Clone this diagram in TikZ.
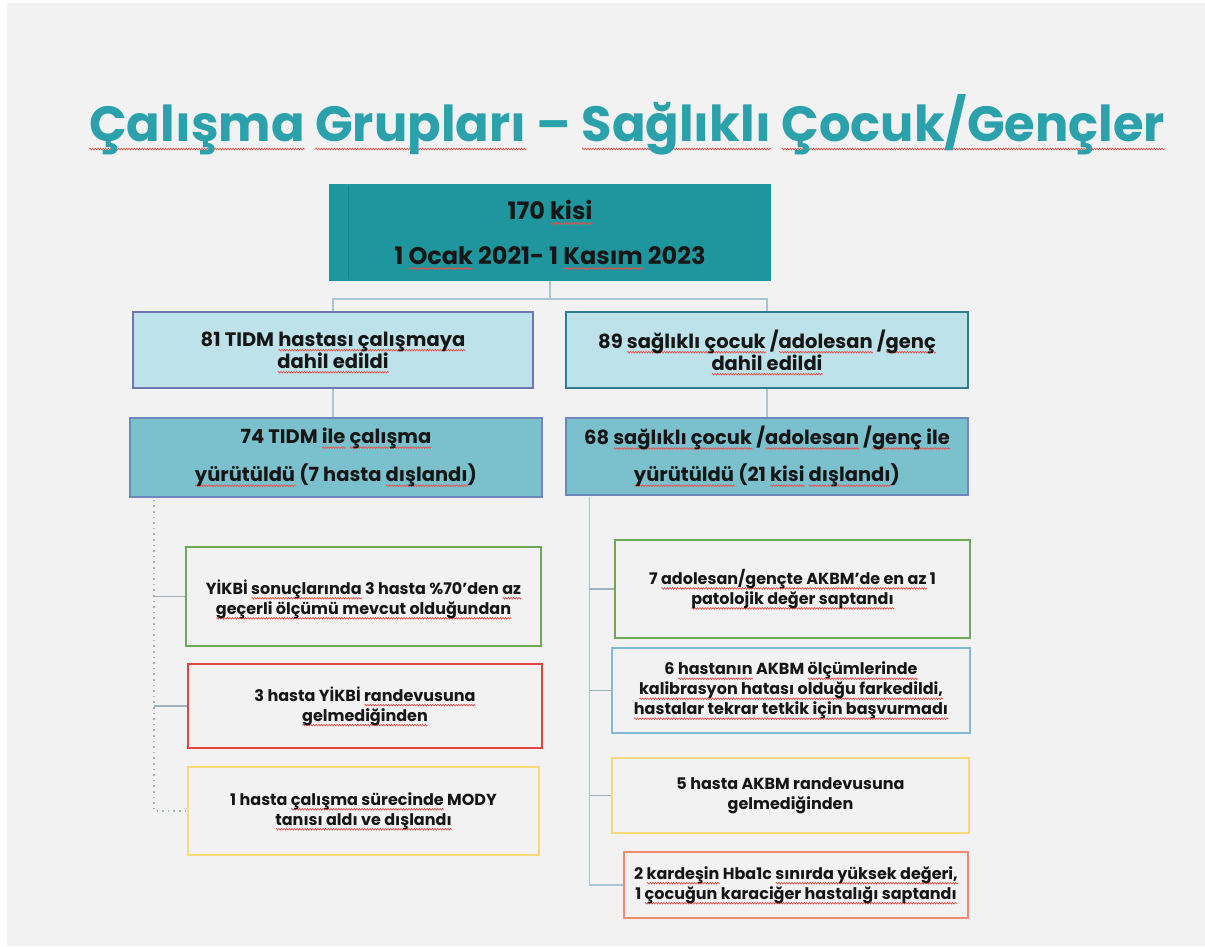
\documentclass[tikz,border=0pt]{standalone}
\usepackage{fontspec}
\setmainfont{Poppins}
\usetikzlibrary{calc,decorations.pathmorphing}
\definecolor{bg}{HTML}{F2F2F2}
\definecolor{titlec}{HTML}{2AA1AB}
\definecolor{topfill}{HTML}{1F959E}
\definecolor{topedge}{HTML}{17858D}
\definecolor{lightfill}{HTML}{BEE2E9}
\definecolor{midfill}{HTML}{7BC1CD}
\definecolor{edgeA}{HTML}{7077B0}
\definecolor{edgeB}{HTML}{2F7D8C}
\definecolor{edgeC}{HTML}{6F88BC}
\definecolor{conn}{HTML}{A9C7D1}
\definecolor{branch}{HTML}{9FB2BA}
\definecolor{gbox}{HTML}{6AAA55}
\definecolor{rbox}{HTML}{E04444}
\definecolor{ybox}{HTML}{F5D97A}
\definecolor{bbox}{HTML}{7FBCD4}
\definecolor{obox}{HTML}{F08A70}
\definecolor{txt}{HTML}{161616}
\definecolor{wavy}{HTML}{E8504A}
\newsavebox\sqbox
\newcommand\sqdepth{4pt}
\newcommand\sq[1]{\sbox\sqbox{#1}\makebox[0pt][l]{\raisebox{-\sqdepth}[0pt][0pt]{\tikz[x=1pt,y=1pt,baseline=0pt]\draw[draw=wavy,solid,line width=0.7pt,decorate,decoration={zigzag,segment length=2.6pt,amplitude=0.8pt}] (0,0) -- (\wd\sqbox,0);}}\usebox\sqbox}
\tikzset{
  box/.style={draw, line width=1.6pt, rectangle, align=center, text=txt, inner sep=0pt},
  bigtxt/.style={font=\fontsize{24}{24}\selectfont\bfseries},
  midtxt/.style={font=\fontsize{19.5}{22}\selectfont\bfseries},
  smalltxt/.style={font=\fontsize{16}{20}\selectfont\bfseries},
  cline/.style={draw=conn, line width=1.4pt},
  bline/.style={draw=branch, line width=1.4pt},
  dline/.style={draw=branch, line width=1.6pt, dash pattern=on 1.6pt off 4pt},
}
\begin{document}
\begin{tikzpicture}[x=1pt,y=-1pt]
\useasboundingbox (0,0) rectangle (1205,946);
\fill[white] (0,0) rectangle (1205,946);
\fill[bg] (7,3) rectangle (1205,946);

\node[font=\fontsize{49.5}{55}\selectfont\bfseries, text=titlec, anchor=base, inner sep=0pt] (title) at (627,141)
  {\renewcommand\sqdepth{8pt}\sq{Çalışma} \sq{Grupları} – \sq{Sağlıklı} \sq{Çocuk/Gençler}};

\node[box, bigtxt, fill=topfill, draw=topfill, minimum width=440pt, minimum height=95pt] (top) at (550,232.5)
  {170 \sq{kisi}\\[21pt] 1 \sq{Ocak} 2021- 1 \sq{Kasım} 2023};
\draw[topedge, line width=1pt] (348,186) -- (348,279);

\node[box, midtxt, fill=lightfill, draw=edgeA, minimum width=400pt, minimum height=76pt] (b81) at (333,350)
  {81 TIDM \sq{hastası çalışmaya}\\ \sq{dahil edildi}};
\node[box, midtxt, fill=lightfill, draw=edgeB, minimum width=402pt, minimum height=76pt] (b89) at (767,350)
  {89 \sq{sağlıklı çocuk} /\sq{adolesan} /\sq{genç}\\ \sq{dahil edildi}};

\node[box, midtxt, fill=midfill, draw=edgeC, minimum width=412pt, minimum height=79pt] (b74) at (336,457.5)
  {74 TIDM \sq{ile} \sq{çalışma}\\[14pt] \sq{yürütüldü} (7 hasta \sq{dışlandı})};
\node[box, midtxt, fill=midfill, draw=edgeC, minimum width=402pt, minimum height=77pt] (b68) at (767,456.5)
  {68 \sq{sağlıklı çocuk} /\sq{adolesan} /\sq{genç ile}\\[13pt] \sq{yürütüldü} (21 \sq{kisi} \sq{dışlandı})};

\node[box, smalltxt, fill=bg, draw=gbox, minimum width=355pt, minimum height=99pt] (L1) at (363.5,596.5)
  {\rule{0pt}{20pt}YİKBİ \sq{sonuçlarında} 3 hasta \%70'den \sq{az}\\ \sq{geçerli ölçümü mevcut olduğundan}};
\node[box, smalltxt, fill=bg, draw=rbox, minimum width=354pt, minimum height=84pt] (L2) at (365,706)
  {3 hasta YİKBİ \sq{randevusuna}\\ \sq{gelmediğinden}};
\node[box, smalltxt, fill=bg, draw=ybox, minimum width=351pt, minimum height=88pt] (L3) at (363.5,811)
  {1 hasta \sq{çalışma sürecinde} MODY\\ \sq{tanısı aldı ve dışlandı}};

\node[box, smalltxt, fill=bg, draw=gbox, minimum width=355pt, minimum height=98pt] (R1) at (792.5,589)
  {7 \sq{adolesan/gençte AKBM'de en az} 1\\ \sq{patolojik değer saptandı}};
\node[box, smalltxt, fill=bg, draw=bbox, minimum width=358pt, minimum height=85pt] (R2) at (791,690.5)
  {6 \sq{hastanın} AKBM \sq{ölçümlerinde}\\ \sq{kalibrasyon hatası olduğu farkedildi,}\\ \sq{hastalar tekrar tetkik için başvurmadı}};
\node[box, smalltxt, fill=bg, draw=ybox, minimum width=357pt, minimum height=75pt] (R3) at (790.5,795.5)
  {5 hasta AKBM randevusuna\\ gelmediğinden};
\node[box, smalltxt, fill=bg, draw=obox, minimum width=344pt, minimum height=66pt] (R4) at (796,885)
  {2 \sq{kardeşin} Hba1c \sq{sınırda yüksek değeri,}\\ 1 \sq{çocuğun karaciğer hastalığı saptandı}};

% connectors top
\draw[cline] (top.south) -- ++(0,18) coordinate (mid) -| (b81.north);
\draw[cline] (mid) -| (b89.north);
\draw[cline] (b81.south) -- (b81.south |- b74.north);
\draw[cline] (b89.south) -- (b89.south |- b68.north);

% left tree
\coordinate (lt) at ($(b74.south west)+(25,2)$);
\draw[dline] (lt) |- (L3.west);
\draw[bline] (lt |- L1.west) -- (L1.west);
\draw[bline] (lt |- L2.west) -- (L2.west);

% right tree
\coordinate (rt) at ($(b68.south west)+(24,1)$);
\draw[cline] (rt) |- (R4.west);
\draw[bline] (rt |- R1.west) -- (R1.west);
\draw[bline] (rt |- R2.west) -- (R2.west);
\draw[bline] (rt |- R3.west) -- (R3.west);
\end{tikzpicture}
\end{document}
